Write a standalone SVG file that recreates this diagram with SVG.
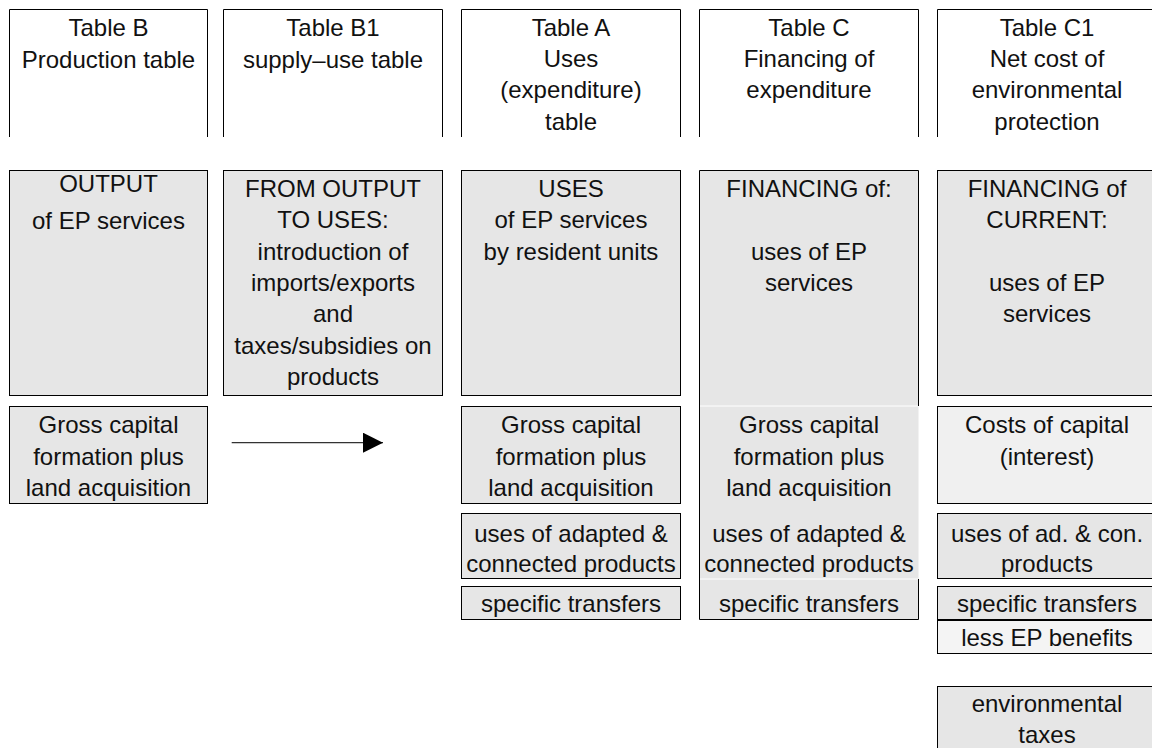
<svg xmlns="http://www.w3.org/2000/svg" width="1152" height="748" viewBox="0 0 1152 748">
<defs>
<style>
.t{font-family:"Liberation Sans",Arial,sans-serif;font-size:24px;fill:#111;text-anchor:middle}
.hd{fill:none;stroke:#000;stroke-width:1}
.bx{fill:#e6e6e6;stroke:#000;stroke-width:1}
.lt{fill:#f0f0f0;stroke:#000;stroke-width:1}
.ln{stroke:#000;stroke-width:1;fill:none}
.wl{stroke:#fff;stroke-width:1}
</style>
<marker id="ah" viewBox="0 0 20 20" refX="20" refY="10" markerWidth="20" markerHeight="20" markerUnits="userSpaceOnUse" orient="auto">
<path d="M0,0 L20,10 L0,20 Z" fill="#000"/>
</marker>
</defs>
<rect width="1152" height="748" fill="#fff"/>

<!-- headers -->
<g id="hdr-B">
<path class="hd" d="M9.5,137 V9.5 H207.5 V137"/>
<text class="t"><tspan x="108.5" y="35.7">Table B</tspan><tspan x="108.5" y="67.5">Production table</tspan></text>
</g>
<g id="hdr-B1">
<path class="hd" d="M223.5,137 V9.5 H442.5 V137"/>
<text class="t"><tspan x="333" y="35.7">Table B1</tspan><tspan x="333" y="67.5">supply–use table</tspan></text>
</g>
<g id="hdr-A">
<path class="hd" d="M461.5,137 V9.5 H680.5 V137"/>
<text class="t"><tspan x="571" y="35.7">Table A</tspan><tspan x="571" y="67">Uses</tspan><tspan x="571" y="98.4">(expenditure)</tspan><tspan x="571" y="129.8">table</tspan></text>
</g>
<g id="hdr-C">
<path class="hd" d="M699.5,137 V9.5 H918.5 V137"/>
<text class="t"><tspan x="809" y="35.7">Table C</tspan><tspan x="809" y="67">Financing of</tspan><tspan x="809" y="98.4">expenditure</tspan></text>
</g>
<g id="hdr-C1">
<path class="hd" d="M937.5,137 V9.5 H1160"/>
<text class="t"><tspan x="1047" y="35.7">Table C1</tspan><tspan x="1047" y="67">Net cost of</tspan><tspan x="1047" y="98.4">environmental</tspan><tspan x="1047" y="129.8">protection</tspan></text>
</g>

<!-- upper boxes -->
<g id="output">
<rect class="bx" x="9.5" y="170.5" width="198" height="225"/>
<text class="t"><tspan x="108.5" y="192">OUTPUT</tspan><tspan x="108.5" y="228.5">of EP services</tspan></text>
</g>
<g id="output-to-uses">
<rect class="bx" x="223.5" y="170.5" width="219" height="225"/>
<text class="t"><tspan x="333" y="196.7">FROM OUTPUT</tspan><tspan x="333" y="228.1">TO USES:</tspan><tspan x="333" y="259.5">introduction of</tspan><tspan x="333" y="290.9">imports/exports</tspan><tspan x="333" y="322.3">and</tspan><tspan x="333" y="353.7">taxes/subsidies on</tspan><tspan x="333" y="385.1">products</tspan></text>
</g>
<g id="uses">
<rect class="bx" x="461.5" y="170.5" width="219" height="225"/>
<text class="t"><tspan x="571" y="196.7">USES</tspan><tspan x="571" y="228.1">of EP services</tspan><tspan x="571" y="259.5">by resident units</tspan></text>
</g>
<g id="financing">
<rect x="699.5" y="170.5" width="219" height="449" fill="#e6e6e6"/>
<path class="ln" d="M699.5,619.5 V170.5 H918.5 V406 M918.5,579 V619.5 H699.5"/>
<line class="wl" x1="700" y1="406" x2="918" y2="406"/>
<line class="wl" x1="700" y1="579" x2="918" y2="579"/>
<text class="t"><tspan x="809" y="196.7">FINANCING of:</tspan><tspan x="809" y="259.5">uses of EP</tspan><tspan x="809" y="290.9">services</tspan></text>
<text class="t"><tspan x="809" y="433.3">Gross capital</tspan><tspan x="809" y="464.7">formation plus</tspan><tspan x="809" y="496">land acquisition</tspan></text>
<text class="t"><tspan x="809" y="541.5">uses of adapted &amp;</tspan><tspan x="809" y="572">connected products</tspan></text>
<text class="t" x="809" y="612">specific transfers</text>
</g>
<g id="financing-current">
<rect class="bx" x="937.5" y="170.5" width="222" height="225"/>
<text class="t"><tspan x="1047" y="196.7">FINANCING of</tspan><tspan x="1047" y="228.1">CURRENT:</tspan><tspan x="1047" y="290.9">uses of EP</tspan><tspan x="1047" y="322.3">services</tspan></text>
</g>

<!-- lower boxes -->
<g id="gcf-B">
<rect class="bx" x="9.5" y="406.5" width="198" height="97"/>
<text class="t"><tspan x="108.5" y="433.3">Gross capital</tspan><tspan x="108.5" y="464.7">formation plus</tspan><tspan x="108.5" y="496">land acquisition</tspan></text>
</g>
<g id="gcf-A">
<rect class="bx" x="461.5" y="406.5" width="219" height="97"/>
<text class="t"><tspan x="571" y="433.3">Gross capital</tspan><tspan x="571" y="464.7">formation plus</tspan><tspan x="571" y="496">land acquisition</tspan></text>
</g>
<g id="adapted-A">
<rect class="bx" x="461.5" y="513.5" width="219" height="65"/>
<text class="t"><tspan x="571" y="541.5">uses of adapted &amp;</tspan><tspan x="571" y="572">connected products</tspan></text>
</g>
<g id="transfers-A">
<rect class="bx" x="461.5" y="586.5" width="219" height="33"/>
<text class="t" x="571" y="612">specific transfers</text>
</g>
<g id="capital-cost-C1">
<rect class="lt" x="937.5" y="406.5" width="222" height="97"/>
<text class="t"><tspan x="1047" y="433.3">Costs of capital</tspan><tspan x="1047" y="464.7">(interest)</tspan></text>
</g>
<g id="adapted-C1">
<rect class="bx" x="937.5" y="513.5" width="222" height="65"/>
<text class="t"><tspan x="1047" y="541.5">uses of ad. &amp; con.</tspan><tspan x="1047" y="572">products</tspan></text>
</g>
<g id="transfers-C1">
<rect class="bx" x="937.5" y="586.5" width="222" height="33"/>
<text class="t" x="1047" y="612">specific transfers</text>
</g>
<g id="benefits-C1">
<rect x="937.5" y="620.5" width="222" height="33" fill="#f4f4f4" stroke="#000" stroke-width="1"/>
<text class="t" x="1047" y="646">less EP benefits</text>
</g>
<g id="env-taxes-C1">
<rect class="bx" x="937.5" y="686.5" width="222" height="80"/>
<text class="t"><tspan x="1047" y="712">environmental</tspan><tspan x="1047" y="743">taxes</tspan></text>
</g>

<!-- connectors -->
<g id="connectors">
<line x1="231.7" y1="442.7" x2="383" y2="442.7" stroke="#333" stroke-width="1.3" marker-end="url(#ah)"/>
</g>
</svg>
